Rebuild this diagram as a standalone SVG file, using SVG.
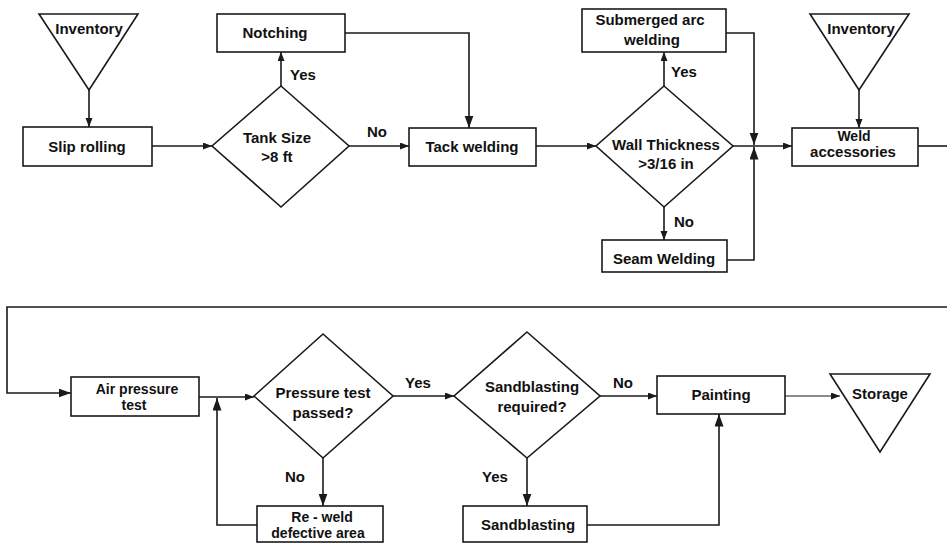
<svg xmlns="http://www.w3.org/2000/svg" width="947" height="544" viewBox="0 0 947 544">
  <style>
    .shape { fill: #ffffff; stroke: #1a1a1a; stroke-width: 1.6; }
    .label { font-family: "Liberation Sans", Arial, sans-serif; font-weight: bold; font-size: 15px; fill: #111111; text-anchor: middle; }
    .tight { font-size: 14px; }
    .tag { font-family: "Liberation Sans", Arial, sans-serif; font-weight: bold; font-size: 15px; fill: #111111; }
    .wire { fill: none; stroke: #1a1a1a; stroke-width: 1.6; }
    .thin { stroke-width: 1.1; }
  </style>
  <defs>
    <marker id="arrow-s" markerUnits="userSpaceOnUse" markerWidth="10" markerHeight="8" refX="9" refY="3.5" orient="auto">
      <path d="M0,0 L9,3.5 L0,7 z" fill="#1a1a1a"/>
    </marker>
    <marker id="arrow-l" markerUnits="userSpaceOnUse" markerWidth="14" markerHeight="10" refX="12.5" refY="4.5" orient="auto">
      <path d="M0,0 L12.5,4.5 L0,9 z" fill="#1a1a1a"/>
    </marker>
  </defs>

  <rect width="947" height="544" fill="#ffffff"/>

  <!-- connectors -->
  <g id="connectors">
    <path class="wire" d="M89,90 V127" marker-end="url(#arrow-s)"/>
    <path class="wire" d="M152,146 H212" marker-end="url(#arrow-s)"/>
    <path class="wire" d="M281,86 V52" marker-end="url(#arrow-s)"/>
    <path class="wire" d="M349,146 H409" marker-end="url(#arrow-s)"/>
    <path class="wire" d="M345,33 H469 V128" marker-end="url(#arrow-l)"/>
    <path class="wire" d="M536,146 H596" marker-end="url(#arrow-s)"/>
    <path class="wire" d="M664,86 V52" marker-end="url(#arrow-s)"/>
    <path class="wire" d="M664,207 V240" marker-end="url(#arrow-s)"/>
    <path class="wire" d="M726,33 H754 V145" marker-end="url(#arrow-l)"/>
    <path class="wire" d="M727,260 H754 V147" marker-end="url(#arrow-l)"/>
    <path class="wire" d="M733,146 H792" marker-end="url(#arrow-s)"/>
    <path class="wire" d="M859,90 V128" marker-end="url(#arrow-s)"/>
    <path class="wire" d="M918,146 H947"/>
    <path class="wire" d="M947,307 H7 V393 H71" marker-end="url(#arrow-l)"/>
    <path class="wire" d="M199,397 H254" marker-end="url(#arrow-s)"/>
    <path class="wire" d="M257,525 H217 V398" marker-end="url(#arrow-l)"/>
    <path class="wire" d="M323,458 V506" marker-end="url(#arrow-l)"/>
    <path class="wire" d="M393,396 H454" marker-end="url(#arrow-s)"/>
    <path class="wire" d="M527,458 V506" marker-end="url(#arrow-l)"/>
    <path class="wire" d="M600,396 H657" marker-end="url(#arrow-s)"/>
    <path class="wire" d="M587,525 H719 V414" marker-end="url(#arrow-l)"/>
    <path class="wire thin" d="M785,396 H840" marker-end="url(#arrow-s)"/>
  </g>

  <!-- edge labels -->
  <g id="edge-labels">
    <text class="tag" x="290" y="80">Yes</text>
    <text class="tag" x="367" y="137">No</text>
    <text class="tag" x="671" y="77">Yes</text>
    <text class="tag" x="674" y="227">No</text>
    <text class="tag" x="405" y="388">Yes</text>
    <text class="tag" x="285" y="482">No</text>
    <text class="tag" x="482" y="482">Yes</text>
    <text class="tag" x="613" y="388">No</text>
  </g>

  <!-- row 1 -->
  <g id="inventory-1">
    <polygon class="shape" points="39,14 138,14 89,90"/>
    <text class="label" x="89" y="34">Inventory</text>
  </g>
  <g id="slip-rolling">
    <rect class="shape" x="23" y="127" width="129" height="39"/>
    <text class="label" x="87" y="152">Slip rolling</text>
  </g>
  <g id="tank-size">
    <polygon class="shape" points="281,86 349,146 281,207 212,146"/>
    <text class="label" x="277" y="143">Tank Size</text>
    <text class="label" x="277" y="162">&gt;8 ft</text>
  </g>
  <g id="notching">
    <rect class="shape" x="217" y="14" width="128" height="38"/>
    <text class="label" x="275" y="38">Notching</text>
  </g>
  <g id="tack-welding">
    <rect class="shape" x="409" y="128" width="127" height="38"/>
    <text class="label" x="472" y="152">Tack welding</text>
  </g>
  <g id="wall-thickness">
    <polygon class="shape" points="664,86 733,146 664,207 596,146"/>
    <text class="label" x="666" y="150">Wall Thickness</text>
    <text class="label" x="666" y="169">&gt;3/16 in</text>
  </g>
  <g id="submerged-arc-welding">
    <rect class="shape" x="582" y="9" width="144" height="43"/>
    <text class="label" x="650" y="25">Submerged arc</text>
    <text class="label" x="652" y="45">welding</text>
  </g>
  <g id="seam-welding">
    <rect class="shape" x="602" y="240" width="125" height="32"/>
    <text class="label" x="664" y="264">Seam Welding</text>
  </g>
  <g id="inventory-2">
    <polygon class="shape" points="810,14 909,14 859,90"/>
    <text class="label" x="861" y="34">Inventory</text>
  </g>
  <g id="weld-accessories">
    <rect class="shape" x="792" y="128" width="126" height="38"/>
    <text class="label tight" x="854" y="141">Weld</text>
    <text class="label" x="853" y="157">accessories</text>
  </g>

  <!-- row 2 -->
  <g id="air-pressure-test">
    <rect class="shape" x="71" y="377" width="128" height="39"/>
    <text class="label tight" x="137" y="394">Air pressure</text>
    <text class="label tight" x="134" y="410">test</text>
  </g>
  <g id="pressure-test-passed">
    <polygon class="shape" points="323,334 393,396 323,458 254,396"/>
    <text class="label" x="323" y="398">Pressure test</text>
    <text class="label" x="323" y="418">passed?</text>
  </g>
  <g id="re-weld">
    <rect class="shape" x="257" y="506" width="126" height="36"/>
    <text class="label tight" x="322" y="522">Re - weld</text>
    <text class="label tight" x="318" y="538">defective area</text>
  </g>
  <g id="sandblasting-required">
    <polygon class="shape" points="527,332 600,396 527,458 454,396"/>
    <text class="label" x="532" y="392">Sandblasting</text>
    <text class="label" x="532" y="412">required?</text>
  </g>
  <g id="sandblasting">
    <rect class="shape" x="463" y="506" width="124" height="36"/>
    <text class="label" x="528" y="530">Sandblasting</text>
  </g>
  <g id="painting">
    <rect class="shape" x="657" y="376" width="128" height="38"/>
    <text class="label" x="721" y="400">Painting</text>
  </g>
  <g id="storage">
    <polygon class="shape" points="830,374 930,374 880,452"/>
    <text class="label" x="880" y="399">Storage</text>
  </g>
</svg>
